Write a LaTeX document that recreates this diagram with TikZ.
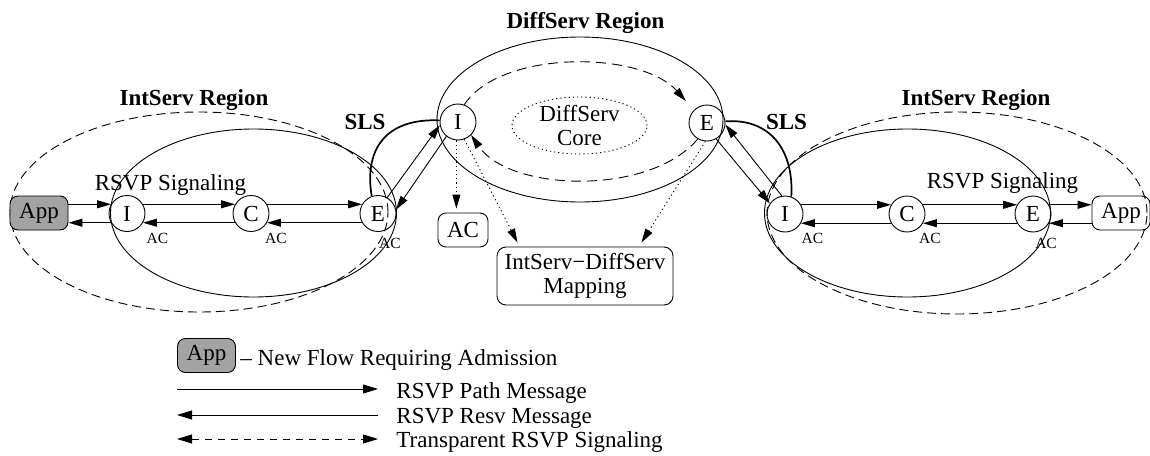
\documentclass[tikz,border=0pt]{standalone}
\usepackage{fontspec}
\setmainfont{Liberation Serif}
\usetikzlibrary{arrows.meta,calc}
\definecolor{appgray}{gray}{0.64}
\begin{document}
\begin{tikzpicture}[x=1pt,y=-1pt,line width=0.9pt,
  every node/.style={font=\fontsize{23}{25}\selectfont,inner sep=0pt},
  title/.style={font=\fontsize{23}{25}\selectfont\bfseries},
  small/.style={font=\fontsize{15.5}{17}\selectfont},
  router/.style={circle,draw,minimum size=36pt},
  appbox/.style={draw,rounded corners=8pt,minimum width=58pt,minimum height=34pt},
  newapp/.style={appbox,fill=appgray},
  acbox/.style={draw,rounded corners=8pt,minimum width=50pt,minimum height=34pt},
  mapbox/.style={draw,rounded corners=9pt,minimum width=176pt,minimum height=58pt,align=center,
    font=\fontsize{23}{24}\selectfont},
  head/.style={Triangle[length=14pt,width=8pt]},
  msg/.style={-{Triangle[length=14pt,width=8pt]}},
  transp/.style={{Triangle[length=15pt,width=9pt]}-{Triangle[length=15pt,width=9pt]},dash pattern=on 7pt off 6pt},
  legmsg/.style={-{Triangle[length=15pt,width=9pt]}},
  loop/.style={dash pattern=on 10pt off 6pt,-{Triangle[length=14pt,width=8pt]}},
  dots/.style={dash pattern=on 1.2pt off 3pt,-{Triangle[length=14pt,width=8pt]}},
  sls/.style={line width=1.7pt},
  region/.style={dash pattern=on 9pt off 5pt},
]
\useasboundingbox (0,0) rectangle (1150,455);

% domain boundaries
\draw[region] (199,212) ellipse [x radius=189pt, y radius=100pt];
\draw (253.5,213) ellipse [x radius=143pt, y radius=84pt];
\draw[region] (957,213) ellipse [x radius=190pt, y radius=101pt];
\draw (907.5,213) ellipse [x radius=143pt, y radius=84pt];
\draw (580,119.5) ellipse [x radius=143pt, y radius=82.5pt];
\draw[dash pattern=on 1.2pt off 3pt] (579.5,125.5) ellipse [x radius=67.5pt, y radius=28.5pt];

% region titles
\node[title,anchor=base] (tL) at (194,105) {IntServ Region};
\node[title,anchor=base] (tR) at (976,105) {IntServ Region};
\node[title,anchor=base] (tD) at (585.5,28) {DiffServ Region};
\node[title,anchor=base] (slsL) at (365,129) {SLS};
\node[title,anchor=base] (slsR) at (786.5,129) {SLS};
\node[anchor=base] (sigL) at (170.5,190) {RSVP Signaling};
\node[anchor=base] (sigR) at (1002.5,188) {RSVP Signaling};
\node[align=center,font=\fontsize{23}{24}\selectfont] (core) at (579.5,126) {DiffServ\\Core};

% hosts and routers
\node[newapp] (appL) at (39,213) {App};
\node[router] (iL) at (127,213.5) {I};
\node[router] (cL) at (251,213.5) {C};
\node[router] (eL) at (378,213.5) {E};
\node[router] (iD) at (458,122) {I};
\node[router] (eD) at (707,123) {E};
\node[router] (iR) at (785,214) {I};
\node[router] (cR) at (907,214) {C};
\node[router] (eR) at (1033,214) {E};
\node[appbox] (appR) at (1121,213) {App};
\node[acbox] (acD) at (463,230) {AC};
\node[mapbox] (map) at (585,276) {IntServ−DiffServ\\Mapping};

% admission control labels
\node[small,anchor=base] (acIL) at (157.5,243) {AC};
\node[small,anchor=base] (acCL) at (276,243) {AC};
\node[small,anchor=base] (acEL) at (390,248) {AC};
\node[small,anchor=base] (acIR) at (812.5,243) {AC};
\node[small,anchor=base] (acCR) at (930,243) {AC};
\node[small,anchor=base] (acER) at (1046,248) {AC};

% left IntServ signaling
\draw[msg] (appL.east |- iL.30) -- (iL.150);
\draw[msg] (iL.30) -- (cL.150);
\draw[msg] (cL.30) -- (eL.150);
\draw[msg] (iL.210) -- (appL.east |- iL.210);
\draw[msg] (cL.210) -- (iL.-30);
\draw[msg] (eL.210) -- (cL.-30);

% right IntServ signaling
\draw[msg] (iR.30) -- (cR.150);
\draw[msg] (cR.30) -- (eR.150);
\draw[msg] (eR.30) -- (appR.west |- eR.30);
\draw[msg] (cR.210) -- (iR.-30);
\draw[msg] (eR.210) -- (cR.-30);
\draw[msg] (appR.west |- eR.210) -- (eR.-30);

% border crossings
\draw[msg] (eL.60) -- (iD.190);
\draw[msg] (iD.231) -- (eL.12);
\draw[msg] (eD.300) -- (iR.145);
\draw[msg] (iR.100) -- (eD.355);

% service level specifications
\draw[sls] (eL.110) .. controls (364,150) and (385,118) .. (iD.175);
\draw[sls] (eD.5) .. controls (770,118) and (794,150) .. (iR.70);

% transparent signaling across the DiffServ core
\draw[loop,shorten >=12pt] (iD.70) .. controls (500,50) and (640,50) .. (eD.135);
\draw[loop] (eD.240) .. controls (650,196) and (510,192) .. (iD.315);

% lookups
\draw[dots,shorten >=4pt] (iD.265) -- (iD.265 |- acD.north);
\draw[dots] (iD.290) -- ($(map.north west)+(21,-4)$);
\draw[dots] (eD.265) -- ($(map.north east)+(-32,-4)$);

% legend
\node[newapp] (appN) at (206.5,355.5) {App};
\node[anchor=base west] (tNew) at (240,365) {– New Flow Requiring Admission};
\coordinate (pa) at (177,389); \coordinate (pb) at (378,389);
\coordinate (ra) at (177,415); \coordinate (rb) at (378,415);
\coordinate (ta) at (177,439); \coordinate (tb) at (378,439);
\draw[legmsg] (pa) -- (pb);
\draw[legmsg] (rb) -- (ra);
\draw[transp] (ta) -- (tb);
\node[anchor=base west] (tPath) at (396,398) {RSVP Path Message};
\node[anchor=base west] (tResv) at (396,423) {RSVP Resv Message};
\node[anchor=base west] (tTr) at (396,447) {Transparent RSVP Signaling};
\end{tikzpicture}
\end{document}
